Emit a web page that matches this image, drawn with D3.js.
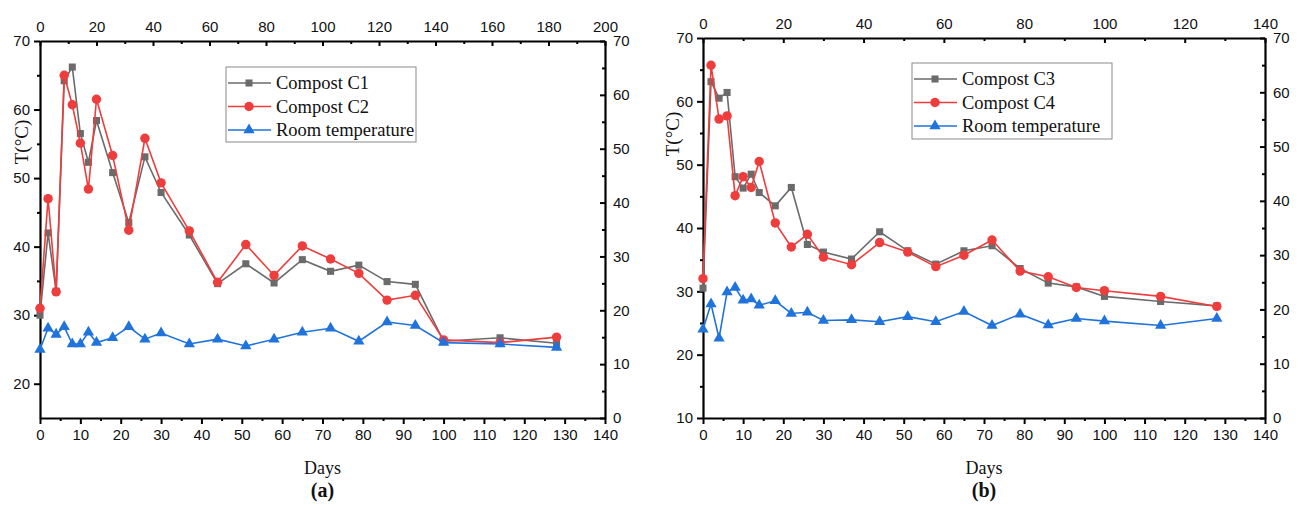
<!DOCTYPE html>
<html>
<head>
<meta charset="utf-8">
<script src="https://cdn.jsdelivr.net/npm/d3@7"></script>
<style>
  body { margin: 0; background: #fff; }
  .tick text { font-family: "Liberation Sans", Arial, sans-serif; font-size: 15px; fill: #111; }
  .axis path, .axis line { stroke: #000; }
  .title { font-family: "Liberation Serif", "Times New Roman", serif; fill: #111; }
</style>
</head>
<body>
<div id="chart"></div>
<script>
// Sampling days (same for both panels)
const days = [0, 2, 4, 6, 8, 10, 12, 14, 18, 22, 26, 30, 37, 44, 51, 58, 65, 72, 79, 86, 93, 100, 114, 128];

// Panel (a)
const compostC1 = [30.0, 42.0, 33.5, 64.2, 66.2, 56.5, 52.3, 58.4, 50.8, 43.5, 53.1, 47.9, 41.7, 34.6, 37.5, 34.7, 38.1, 36.4, 37.3, 34.9, 34.5, 26.2, 26.7, 25.9];
const compostC2 = [31.0, 47.0, 33.4, 65.0, 60.7, 55.1, 48.4, 61.5, 53.3, 42.4, 55.8, 49.3, 42.3, 34.8, 40.3, 35.8, 40.1, 38.2, 36.1, 32.2, 32.9, 26.4, 26.0, 26.8];
const roomA     = [25.0, 28.1, 27.2, 28.3, 25.8, 25.8, 27.5, 26.0, 26.7, 28.3, 26.5, 27.4, 25.8, 26.5, 25.5, 26.5, 27.5, 28.1, 26.2, 29.0, 28.5, 26.0, 25.8, 25.3];

// Panel (b)
const compostC3 = [30.5, 63.1, 60.5, 61.4, 48.1, 46.3, 48.5, 45.6, 43.5, 46.4, 37.4, 36.2, 35.1, 39.4, 36.4, 34.3, 36.4, 37.2, 33.6, 31.3, 30.7, 29.2, 28.4, 27.7];
const compostC4 = [32.0, 65.7, 57.2, 57.7, 45.1, 48.1, 46.4, 50.5, 40.8, 37.0, 39.0, 35.4, 34.2, 37.7, 36.2, 33.9, 35.7, 38.1, 33.2, 32.3, 30.6, 30.1, 29.2, 27.6];
const roomB     = [24.0, 28.0, 22.6, 29.9, 30.6, 28.6, 28.8, 27.8, 28.5, 26.5, 26.7, 25.4, 25.5, 25.2, 26.0, 25.2, 26.8, 24.6, 26.4, 24.7, 25.7, 25.3, 24.6, 25.7];

// Series styles
const gray = "#6b6b6b", red = "#ee3d3d", blue = "#2173dc";

const width = 1303, height = 505;

let svg = d3.select("#chart").append("svg")
    .attr("width", width)
    .attr("height", height);

drawPanel({
    left: 40, right: 605, top: 41, bottom: 418,
    yDomain: [15, 70], yMajors: d3.range(20, 71, 10), yMinors: d3.range(25, 70, 10),
    topDomain: [0, 200], topMajors: d3.range(0, 201, 20), topMinors: d3.range(10, 200, 20),
    series: [
        { name: "Compost C1", values: compostC1, color: gray, symbol: d3.symbolSquare, size: 50 },
        { name: "Compost C2", values: compostC2, color: red, symbol: d3.symbolCircle, size: 70 },
        { name: "Room temperature", values: roomA, color: blue, symbol: d3.symbolTriangle, size: 55 }
    ],
    legend: { x: 226, y: 67, w: 190, h: 75 },
    label: "(a)", yLabelX: 28, yLabelY: 142
});

drawPanel({
    left: 703, right: 1265, top: 38, bottom: 418,
    yDomain: [10, 70], yMajors: d3.range(10, 71, 10), yMinors: d3.range(15, 70, 10),
    topDomain: [0, 140], topMajors: d3.range(0, 141, 20), topMinors: d3.range(10, 140, 20),
    series: [
        { name: "Compost C3", values: compostC3, color: gray, symbol: d3.symbolSquare, size: 50 },
        { name: "Compost C4", values: compostC4, color: red, symbol: d3.symbolCircle, size: 70 },
        { name: "Room temperature", values: roomB, color: blue, symbol: d3.symbolTriangle, size: 55 }
    ],
    legend: { x: 912, y: 63, w: 200, h: 76 },
    label: "(b)", yLabelX: 679, yLabelY: 134
});

function drawPanel(p) {
    let x = d3.scaleLinear().domain([0, 140]).range([p.left, p.right]);
    let xTop = d3.scaleLinear().domain(p.topDomain).range([p.left, p.right]);
    let y = d3.scaleLinear().domain(p.yDomain).range([p.bottom, p.top]);
    let yRight = d3.scaleLinear().domain([0, 70]).range([p.bottom, p.top]);

    let g = svg.append("g");

    // bottom axis (ticks out)
    addAxis(g, d3.axisBottom(x).tickValues(d3.range(0, 141, 10)).tickSize(6).tickPadding(5),
        d3.axisBottom(x).tickValues(d3.range(5, 140, 10)).tickSize(3), `translate(0,${p.bottom})`);
    // top axis (ticks in)
    addAxis(g, d3.axisTop(xTop).tickValues(p.topMajors).tickSize(-5).tickPadding(9),
        d3.axisTop(xTop).tickValues(p.topMinors).tickSize(-3), `translate(0,${p.top})`);
    // left axis (ticks out)
    addAxis(g, d3.axisLeft(y).tickValues(p.yMajors).tickSize(6).tickPadding(4),
        d3.axisLeft(y).tickValues(p.yMinors).tickSize(3), `translate(${p.left},0)`);
    // right axis (ticks in)
    addAxis(g, d3.axisRight(yRight).tickValues(d3.range(0, 71, 10)).tickSize(-5).tickPadding(8),
        d3.axisRight(yRight).tickValues(d3.range(5, 70, 10)).tickSize(-3), `translate(${p.right},0)`);

    // series
    let line = d3.line().x((d, i) => x(days[i])).y(d => y(d));
    p.series.forEach(s => {
        g.append("path")
            .attr("d", line(s.values))
            .attr("fill", "none")
            .attr("stroke", s.color)
            .attr("stroke-width", 1.6);
        g.append("g").selectAll("path")
            .data(s.values)
            .enter().append("path")
            .attr("transform", (d, i) => `translate(${x(days[i])},${y(d)})`)
            .attr("d", d3.symbol().type(s.symbol).size(s.size))
            .attr("fill", s.color);
    });

    // legend
    let lg = g.append("g").attr("transform", `translate(${p.legend.x},${p.legend.y})`);
    lg.append("rect")
        .attr("width", p.legend.w).attr("height", p.legend.h)
        .attr("fill", "#fff").attr("stroke", "#8a8a8a").attr("stroke-width", 1);
    p.series.forEach((s, i) => {
        let cy = 16 + i * 23.5;
        lg.append("line")
            .attr("x1", 2).attr("x2", 45).attr("y1", cy).attr("y2", cy)
            .attr("stroke", s.color).attr("stroke-width", 1.6);
        lg.append("path")
            .attr("transform", `translate(23,${cy})`)
            .attr("d", d3.symbol().type(s.symbol).size(s.size))
            .attr("fill", s.color);
        lg.append("text")
            .attr("class", "title")
            .attr("x", 50).attr("y", cy + 6)
            .attr("font-size", "18.5px")
            .text(s.name);
    });

    // axis titles
    let cx = (p.left + p.right) / 2;
    g.append("text").attr("class", "title")
        .attr("x", cx).attr("y", 474)
        .attr("text-anchor", "middle").attr("font-size", "18px")
        .text("Days");
    g.append("text").attr("class", "title")
        .attr("x", cx).attr("y", 497)
        .attr("text-anchor", "middle").attr("font-size", "20px").attr("font-weight", "bold")
        .text(p.label);
    g.append("text").attr("class", "title")
        .attr("transform", `translate(${p.yLabelX},${p.yLabelY}) rotate(-90)`)
        .attr("text-anchor", "middle").attr("font-size", "19px")
        .text("T(°C)");
}

function addAxis(g, major, minor, transform) {
    let a = g.append("g").attr("class", "axis").attr("transform", transform);
    a.call(major.tickSizeOuter(0));
    a.select(".domain").attr("stroke-width", 2.2);
    a.selectAll(".tick line").attr("stroke-width", 2);
    let m = g.append("g").attr("class", "axis").attr("transform", transform);
    m.call(minor.tickSizeOuter(0).tickFormat(""));
    m.select(".domain").remove();
    m.selectAll(".tick line").attr("stroke-width", 2);
}
</script>
</body>
</html>
